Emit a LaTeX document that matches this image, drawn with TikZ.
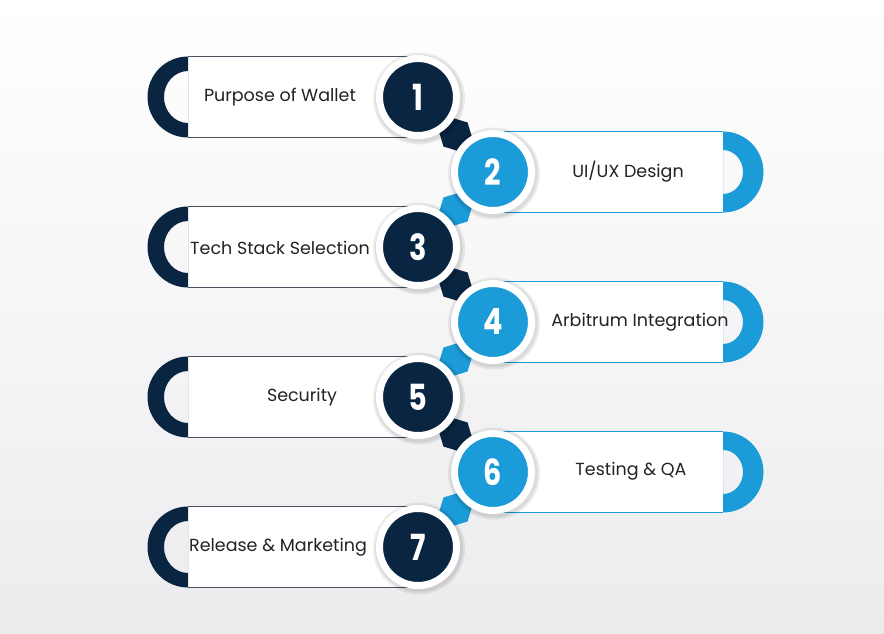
\documentclass[tikz,border=0pt]{standalone}
\usepackage{fontspec}
\usepackage{graphicx}
\setmainfont{Poppins}
\usetikzlibrary{calc}
\definecolor{navy}{RGB}{10,37,66}
\definecolor{skyblue}{RGB}{27,155,215}
\definecolor{bglow}{RGB}{236,236,239}
\definecolor{rimgray}{RGB}{72,82,95}
\definecolor{textgray}{RGB}{35,35,38}
\newcommand{\stepdigit}[1]{\scalebox{0.8}[1]{#1}}
\tikzset{
    stepcircle/.style={circle,minimum size=77pt,inner sep=0pt,draw=white,
        line width=7pt,text=white,font=\fontsize{36}{36}\selectfont\bfseries},
    steplabel/.style={text=textgray,font=\fontsize{17.5}{20}\selectfont},
}
\begin{document}
\begin{tikzpicture}[x=1pt,y=1pt]
    \useasboundingbox (0,0) rectangle (884,-633);
    \shade[top color=white,bottom color=bglow]
        (0,0) rectangle (884,-633);
    \foreach \y in {97,247,397,547}{
        \fill[white]
            (188,-\y+40.5) rectangle (418,-\y-40.5);
        \draw[rimgray,line width=1.2pt]
            (188,-\y+40.5) -- (418,-\y+40.5)
            (188,-\y-40.5) -- (418,-\y-40.5);
        \fill[navy,even odd rule]
            (188,-\y+40.5) arc[start angle=90,end angle=270,radius=40.5] -- cycle
            (188,-\y+26) arc[start angle=90,end angle=270,x radius=24,y radius=26] -- cycle;
    }
    \foreach \y in {172,322,472}{
        \fill[white]
            (493,-\y+40.5) rectangle (723,-\y-40.5);
        \draw[skyblue,line width=1.2pt]
            (493,-\y+40.5) -- (723,-\y+40.5)
            (493,-\y-40.5) -- (723,-\y-40.5);
        \fill[skyblue,even odd rule]
            (723,-\y-40.5) arc[start angle=-90,end angle=90,radius=40.5] -- cycle
            (723,-\y-22) arc[start angle=-90,end angle=90,x radius=20,y radius=22] -- cycle;
    }
    \foreach \i/\x/\y in {1/418/97,2/493/172,3/418/247,4/493/322,5/418/397,6/493/472,7/418/547}{
        \coordinate (c\i) at (\x,-\y);
    }
    \foreach \p/\q/\col in {c1/c2/navy,c2/c3/skyblue,c3/c4/navy,c4/c5/skyblue,c5/c6/navy,c6/c7/skyblue}{
        \coordinate (m) at ($(\p)!0.5!(\q)$);
        \fill[\col]
            (\p) .. controls ($(m)!0.6!(\p)$) .. ($(m)!17pt!90:(\q)$)
            .. controls ($(m)!0.6!(\q)$) .. (\q)
            .. controls ($(m)!0.6!(\q)$) .. ($(m)!17pt!-90:(\q)$)
            .. controls ($(m)!0.6!(\p)$) .. cycle;
    }
    \foreach \i in {1,...,7}{
        \fill[black,opacity=0.07]
            ($(c\i)+(1,-1.5)$) circle (46);
        \fill[black,opacity=0.07]
            ($(c\i)+(1,-1.5)$) circle (44);
    }
    \node[stepcircle,fill=navy] (n1) at (c1) {\stepdigit{1}};
    \node[stepcircle,fill=skyblue] (n2) at (c2) {\stepdigit{2}};
    \node[stepcircle,fill=navy] (n3) at (c3) {\stepdigit{3}};
    \node[stepcircle,fill=skyblue] (n4) at (c4) {\stepdigit{4}};
    \node[stepcircle,fill=navy] (n5) at (c5) {\stepdigit{5}};
    \node[stepcircle,fill=skyblue] (n6) at (c6) {\stepdigit{6}};
    \node[stepcircle,fill=navy] (n7) at (c7) {\stepdigit{7}};
    \node[steplabel] (t1) at (280,-97) {Purpose of Wallet};
    \node[steplabel] (t2) at (628,-172) {UI/UX Design};
    \node[steplabel] (t3) at (280,-248) {Tech Stack Selection};
    \node[steplabel] (t4) at (640,-322) {Arbitrum Integration};
    \node[steplabel] (t5) at (302,-397) {Security};
    \node[steplabel] (t6) at (631,-471) {Testing \& QA};
    \node[steplabel] (t7) at (278,-547) {Release \& Marketing};
\end{tikzpicture}
\end{document}
